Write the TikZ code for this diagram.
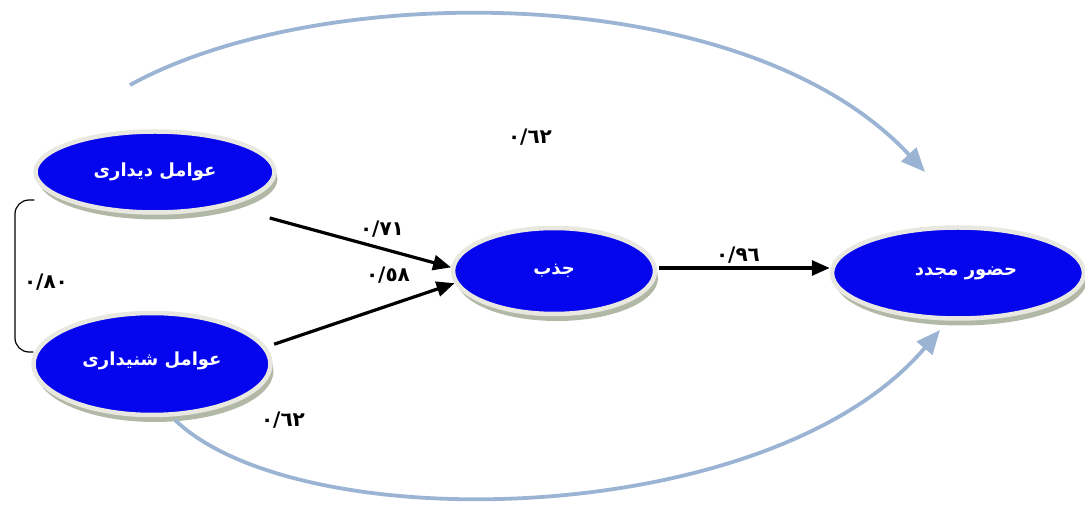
\documentclass[tikz,border=0pt]{standalone}
\usepackage{fontspec}
\newfontfamily\arabicfont[Script=Arabic]{DejaVu Sans}
\TeXXeTstate=1
\usetikzlibrary{shapes.geometric,arrows.meta,shadows,calc}
\definecolor{nodeblue}{RGB}{6,6,238}
\definecolor{rimcol}{RGB}{232,232,224}
\definecolor{shadowcol}{RGB}{165,172,150}
\definecolor{arccol}{RGB}{155,180,212}
\tikzset{
  factor/.style={ellipse, fill=nodeblue, draw=rimcol, line width=4.5pt, inner sep=0pt,
    text=white, font=\arabicfont\bfseries\fontsize{18}{20}\selectfont,
    drop shadow={shadow xshift=3pt, shadow yshift=-7pt, fill=shadowcol, opacity=0.85}},
  path/.style={line width=3.2pt, -{Triangle[length=18pt,width=15pt]}},
  bigarc/.style={draw=arccol, line width=3.8pt, -{Triangle[length=24pt,width=20pt]}},
  coef/.style={font=\arabicfont\bfseries\fontsize{20}{22}\selectfont, inner sep=0pt},
}
\begin{document}
\begin{tikzpicture}[x=1pt,y=-1pt]
\useasboundingbox (0,0) rectangle (1085,510);
\node[factor, minimum width=239pt, minimum height=81pt] (A) at (155,172) {\raisebox{-8pt}{\beginR عوامل دیداری\endR}};
\node[factor, minimum width=237pt, minimum height=102pt] (B) at (152,364) {\raisebox{11pt}{\beginR عوامل شنیداری\endR}};
\node[factor, minimum width=202pt, minimum height=86pt] (C) at (554,271) {\raisebox{-5pt}{\beginR جذب\endR}};
\node[factor, minimum width=252pt, minimum height=91pt] (D) at (958,273) {\hspace{16pt}\raisebox{3pt}{\beginR حضور مجدد\endR}};

\coordinate (T0) at (130,85);
\coordinate (T1) at (925,172);
\coordinate (B0) at (175,420);
\coordinate (B1) at (940,330);
\draw[bigarc] (T0) .. controls (320,-20) and (745,-22) .. (T1);
\draw[bigarc] (B0) .. controls (300,540) and (770,530) .. (B1);

\draw[path] ($(A.east)+(-7,46)$) -- (C.178);
\draw[path] ($(B.10)+(10,0)$) -- (C.187);
\draw[path] ($(C.east)+(2,-3)$) -- ($(D.west |- C.east)+(0,-3)$);
\draw[line width=1.2pt, rounded corners=14pt] ($(A.west)+(1,28)$) -| (15,280) |- ($(B.west)+(2,-12)$);

\node[coef] (l1) at (382,229) {٠/٧١};
\node[coef] (l2) at (388,275) {٠/٥٨};
\node[coef] (l3) at (738,255) {٠/٩٦};
\node[coef] (l4) at (530,137) {٠/٦٢};
\node[coef] (l5) at (283,420) {٠/٦٢};
\node[coef] (l6) at (46,282) {٠/٨٠};
\end{tikzpicture}
\end{document}
